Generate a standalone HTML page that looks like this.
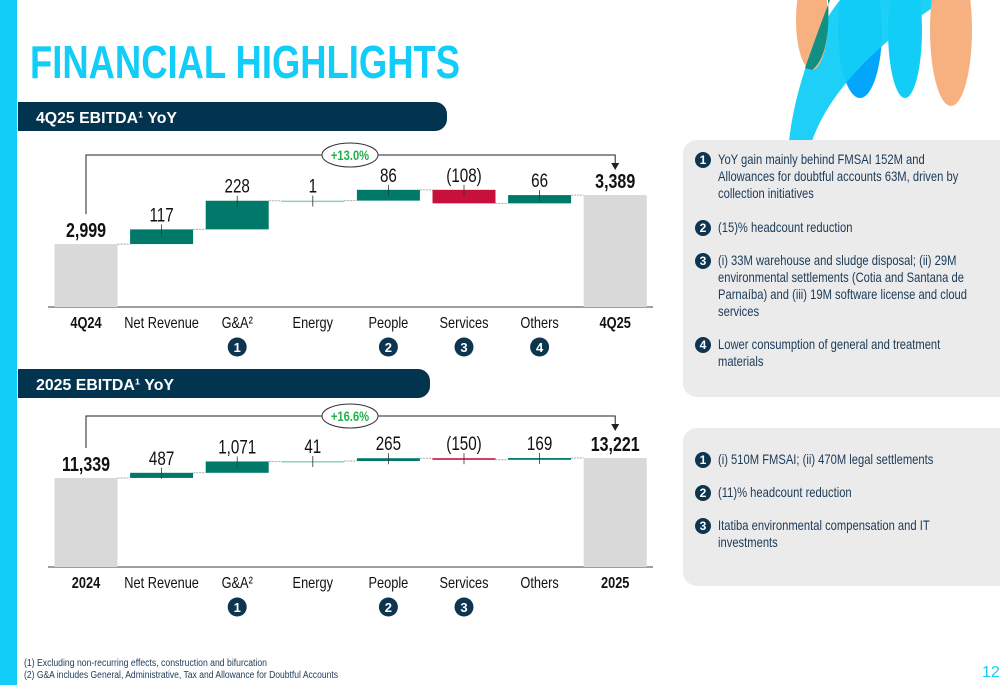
<!DOCTYPE html>
<html><head><meta charset="utf-8">
<style>
body{margin:0;width:1000px;height:685px;position:relative;overflow:hidden;background:#fff;font-family:"Liberation Sans",sans-serif;color:#1b3a57}
.abs{position:absolute}
.panel{position:absolute;left:683px;width:317px;background:#ebebeb;border-radius:14px 0 0 14px}
.item{position:absolute;left:35px;width:270px;font-size:14px;line-height:17px;color:#1b3a57}
.t{width:322px;transform:scaleX(0.8);transform-origin:0 0}
.b{position:absolute;left:-23px;top:1px;width:16px;height:16px;border-radius:50%;background:#0e3550;color:#fff;font:bold 12px "Liberation Sans",sans-serif;text-align:center;line-height:16px}
</style></head><body>
<div class="abs" style="left:0;top:0;width:17px;height:685px;background:#12cdf7"></div>
<svg class="abs" style="left:0;top:0" width="1000" height="685">
<text x="30" y="78" font-family="Liberation Sans, sans-serif" font-weight="bold" font-size="46" fill="#12cdf7" textLength="430" lengthAdjust="spacingAndGlyphs">FINANCIAL HIGHLIGHTS</text>
<g>
<ellipse cx="860" cy="30" rx="22" ry="68" fill="#04a6fb"/>
<ellipse cx="905" cy="30" rx="17" ry="68" fill="#12cdf7"/>
<path d="M789 141 C795 90 815 30 840 0 L945 0 C880 40 830 90 812 141 Z" fill="#12cdf7" fill-opacity="0.95"/>
<ellipse cx="812" cy="20" rx="16" ry="50" fill="#f7b07f"/>
<path d="M805 68 C815 40 822 20 830 0 L828 0 C830 30 826 60 812 70 Z" fill="#118f80"/>
<ellipse cx="951" cy="30" rx="21" ry="76" fill="#f7b07f"/>
</g>
<rect x="18" y="102" width="429" height="29" rx="12" fill="#03344f"/>
<rect x="18" y="102" width="20" height="29" fill="#03344f"/>
<text x="36" y="123" font-weight="bold" font-size="16" fill="#fff" textLength="141" lengthAdjust="spacingAndGlyphs">4Q25 EBITDA¹ YoY</text>
<rect x="18" y="369" width="412" height="29" rx="12" fill="#03344f"/>
<rect x="18" y="369" width="20" height="29" fill="#03344f"/>
<text x="36" y="390" font-weight="bold" font-size="16" fill="#fff" textLength="138" lengthAdjust="spacingAndGlyphs">2025 EBITDA¹ YoY</text>
<g id="c1"></g>
<g id="c2"></g>
<text x="24" y="666" font-size="10" fill="#1b3a57" textLength="243" lengthAdjust="spacingAndGlyphs">(1)   Excluding non-recurring effects, construction and bifurcation</text>
<text x="24" y="678" font-size="10" fill="#1b3a57" textLength="314" lengthAdjust="spacingAndGlyphs">(2)   G&amp;A includes General, Administrative, Tax and Allowance for Doubtful Accounts</text>
<text x="982" y="677" font-size="16" fill="#12cdf7">12</text>
</svg>
<div class="panel" style="top:140px;height:257px">
<div class="item" style="top:11px"><span class="b">1</span><div class="t">YoY gain mainly behind FMSAI 152M and Allowances for doubtful accounts 63M, driven by collection initiatives</div></div>
<div class="item" style="top:79px"><span class="b">2</span><div class="t">(15)% headcount reduction</div></div>
<div class="item" style="top:112px"><span class="b">3</span><div class="t">(i) 33M warehouse and sludge disposal; (ii) 29M environmental settlements (Cotia and Santana de Parnaíba) and (iii) 19M software license and cloud services</div></div>
<div class="item" style="top:196px"><span class="b">4</span><div class="t">Lower consumption of general and treatment materials</div></div>
</div>
<div class="panel" style="top:428px;height:158px">
<div class="item" style="top:23px"><span class="b">1</span><div class="t">(i) 510M FMSAI; (ii) 470M legal settlements</div></div>
<div class="item" style="top:56px"><span class="b">2</span><div class="t">(11)% headcount reduction</div></div>
<div class="item" style="top:89px"><span class="b">3</span><div class="t">Itatiba environmental compensation and IT investments</div></div>
</div>
<script>
const cats1=["4Q24","Net Revenue","G&A²","Energy","People","Services","Others","4Q25"];
const vals1=[2999,117,228,1,86,-108,66,3389];
const labels1=["2,999","117","228","1","86","(108)","66","3,389"];
const badges1=[0,0,1,0,2,3,4,0];
const pct1="+13.0%";
const cats2=["2024","Net Revenue","G&A²","Energy","People","Services","Others","2025"];
const vals2=[11339,487,1071,41,265,-150,169,13221];
const labels2=["11,339","487","1,071","41","265","(150)","169","13,221"];
const badges2=[0,0,1,0,2,3,0,0];
const pct2="+16.6%";
const NS="http://www.w3.org/2000/svg";
function mk(p,t,a){const e=document.createElementNS(NS,t);for(const k in a)e.setAttribute(k,a[k]);p.appendChild(e);return e;}
function txt(g,x,y,s,a){const gg=mk(g,"g",{transform:`translate(${x},${y}) scale(0.8,1)`});const t=mk(gg,"text",Object.assign({x:0,y:0,"text-anchor":"middle"},a));t.textContent=s;return t;}
function draw(g,cats,vals,labels,badges,pct,o){
 const x=i=>86+i*75.6, w=63;
 const y=v=>o.base-(v-o.min)*o.k;
 mk(g,"line",{x1:48,x2:653,y1:o.base,y2:o.base,stroke:"#7f7f7f","stroke-width":1.5});
 let run=0;const n=vals.length;
 for(let i=0;i<n;i++){
  let t,b,fill,isEnd=(i==0||i==n-1);
  if(isEnd){t=y(vals[i]);b=o.base;fill="#d9d9d9";run=vals[i];}
  else{const s=run;run+=vals[i];t=y(Math.max(s,run));b=y(Math.min(s,run));fill=vals[i]<0?"#c8103e":(Math.abs(vals[i])<o.thin?"#8ccfc4":"#00796b");}
  const r=mk(g,"rect",{x:x(i)-w/2,y:t,width:w,height:Math.max(b-t,1.5),fill:fill});
  
  
  if(i<n-1) mk(g,"line",{x1:x(i)+w/2,x2:x(i+1)-w/2,y1:y(run),y2:y(run),stroke:"#aaa","stroke-dasharray":"2,1"});
  if(!isEnd) mk(g,"line",{x1:x(i),x2:x(i),y1:t-5,y2:t+6,stroke:"#333","stroke-width":0.8});
  const lt=txt(g,x(i),t-(isEnd?7:8),labels[i],{"font-size":isEnd?20:19,"font-weight":isEnd?"bold":"normal",fill:"#111"});
  
  
  const ct=txt(g,x(i),o.base+21,cats[i],{"font-size":16,"font-weight":isEnd?"bold":"normal",fill:"#111"});
  
  
  if(badges[i]){mk(g,"circle",{cx:x(i),cy:o.base+40,r:9.5,fill:"#0e3550"});
   const bt=mk(g,"text",{x:x(i),y:o.base+45,"text-anchor":"middle","font-size":13,"font-weight":"bold",fill:"#fff"});bt.textContent=badges[i];
   
   }
 }
 const by=o.by, x0=x(0), x1=x(n-1);
 mk(g,"path",{d:`M${x0} ${y(vals[0])-30} V${by} H${x1} V${by+10}`,fill:"none",stroke:"#222","stroke-width":1});
 mk(g,"path",{d:`M${x1-4} ${by+8} L${x1+4} ${by+8} L${x1} ${by+15} Z`,fill:"#222"});
 mk(g,"ellipse",{cx:350,cy:by,rx:28,ry:12,fill:"#fff",stroke:"#333"});
 const pt=txt(g,350,by+5,pct,{"font-size":14,"font-weight":"bold",fill:"#22b04b"});
 
 
}
draw(document.getElementById('c1'),cats1,vals1,labels1,badges1,pct1,{base:307,min:2498,k:0.1256,by:155,thin:5});
draw(document.getElementById('c2'),cats2,vals2,labels2,badges2,pct2,{base:567,min:2940,k:0.0106,by:416,thin:50});
</script>
</body></html>
